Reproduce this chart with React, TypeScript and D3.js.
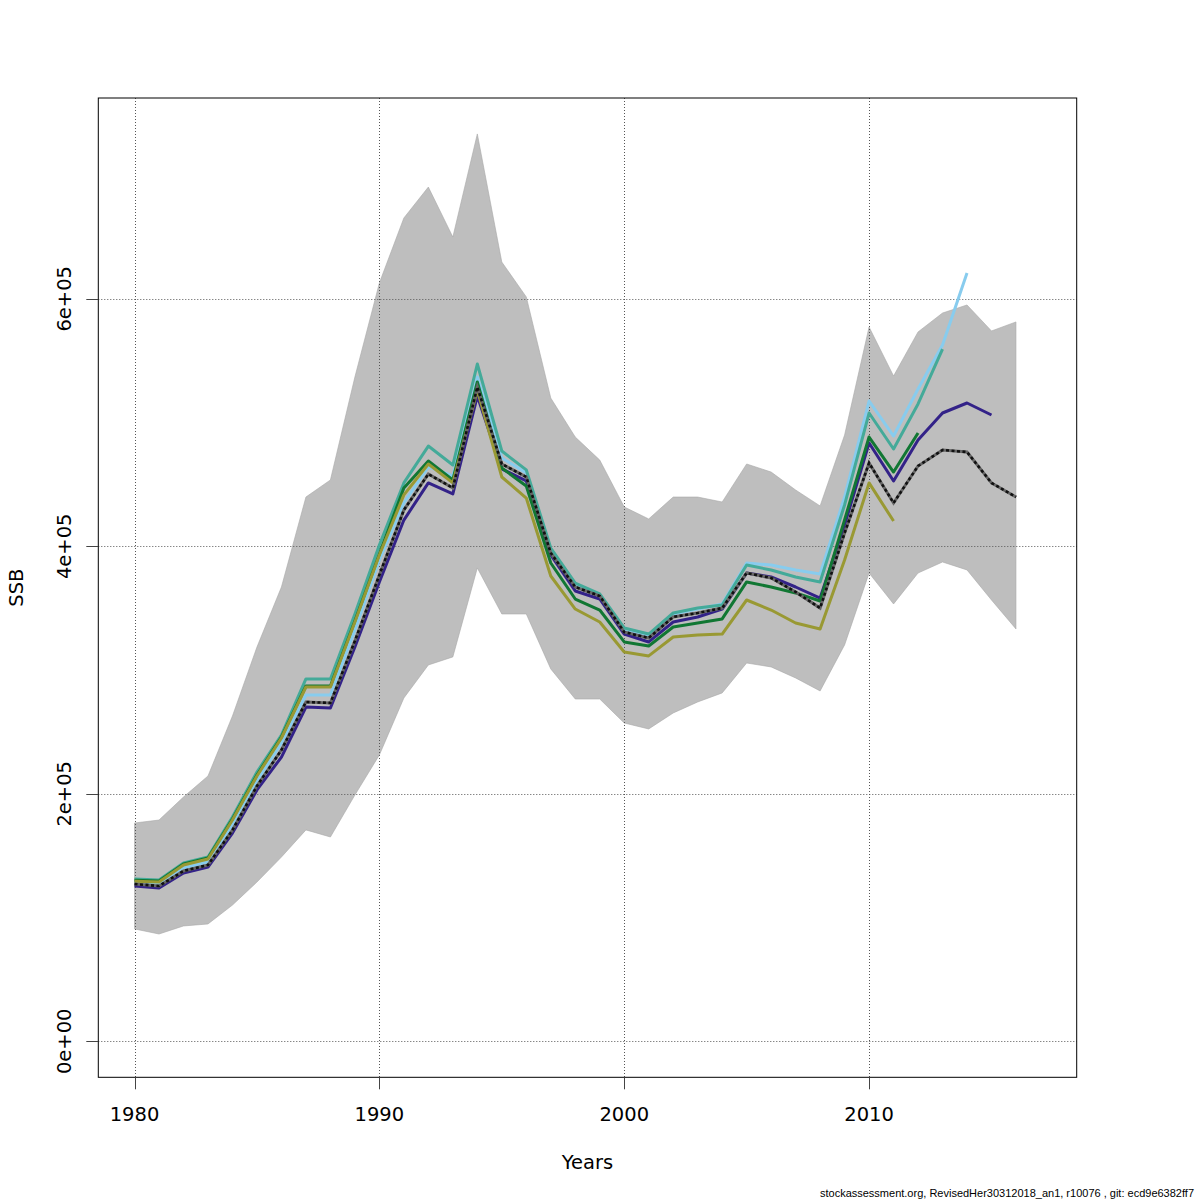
import React, { useEffect, useRef } from 'react'
import * as d3 from 'd3'

// SSB in thousands of tonnes, one value per year starting 1980
const years = [
  1980, 1981, 1982, 1983, 1984, 1985, 1986, 1987, 1988, 1989,
  1990, 1991, 1992, 1993, 1994, 1995, 1996, 1997, 1998, 1999,
  2000, 2001, 2002, 2003, 2004, 2005, 2006, 2007, 2008, 2009,
  2010, 2011, 2012, 2013, 2014, 2015, 2016,
]

const upperCI = [
  176.4, 178.8, 197.4, 214.4, 262.9, 318.6, 367.1, 439.8, 453.6, 536.8,
  612.8, 665.3, 690.3, 649.9, 733.2, 629.7, 601.5, 519.8, 488.3, 469.7,
  431.8, 422.1, 439.8, 439.8, 435.8, 466.5, 460.0, 445.5, 432.6, 489.9,
  577.2, 537.6, 573.2, 588.5, 595.0, 574.0, 581.3,
]

const lowerCI = [
  90.8, 86.7, 93.2, 94.8, 110.1, 128.7, 148.9, 170.8, 165.1, 199.0,
  231.4, 277.4, 304.1, 310.6, 382.5, 345.3, 345.3, 300.9, 276.6, 276.6,
  257.2, 252.4, 265.3, 274.2, 281.5, 305.7, 302.5, 293.6, 283.1, 320.3,
  378.4, 353.4, 378.4, 387.3, 380.9, 356.6, 333.2,
]

const ssbBase = [
  127.1, 125.5, 137.6, 142.5, 170.7, 206.3, 235.4, 274.2, 273.4, 323.5,
  376.8, 429.3, 458.4, 447.1, 528.7, 466.5, 456.0, 394.6, 367.1, 359.8,
  330.7, 325.9, 342.9, 346.1, 350.1, 378.4, 374.4, 363.1, 350.1, 410.7,
  467.3, 435.0, 464.9, 477.8, 476.2, 451.2, 439.8,
]

// retrospective peels
const peel1 = [
  125.5, 123.9, 136.0, 140.8, 168.3, 203.1, 229.7, 270.1, 269.3, 318.6,
  371.1, 421.2, 451.2, 442.3, 521.4, 462.5, 452.8, 393.0, 363.9, 357.4,
  329.1, 322.7, 338.8, 342.9, 349.3, 378.4, 375.2, 367.1, 358.2, 417.2,
  483.5, 452.8, 485.9, 507.7, 515.8, 506.1,
]

const peel2 = [
  128.2, 127.1, 140.0, 144.9, 174.8, 210.3, 241.0, 279.8, 279.8, 332.4,
  388.9, 435.0, 464.1, 456.8, 536.8, 471.4, 459.2, 397.0, 369.5, 360.6,
  332.4, 327.5, 345.3, 349.3, 353.4, 386.5, 384.9, 380.8, 377.6, 439.8,
  517.4, 489.1, 527.1, 562.7, 620.8,
]

const peel3 = [
  131.2, 130.3, 144.1, 148.9, 181.3, 217.6, 247.5, 292.8, 292.8, 345.3,
  401.0, 451.2, 481.0, 465.7, 547.3, 477.0, 461.7, 398.6, 370.3, 361.5,
  334.0, 329.1, 346.1, 350.1, 352.6, 384.9, 380.8, 375.2, 371.2, 433.4,
  507.7, 478.6, 515.0, 559.4,
]

const peel4 = [
  130.1, 129.5, 143.3, 148.1, 179.6, 215.2, 245.9, 287.1, 287.1, 339.6,
  393.8, 447.1, 468.9, 453.6, 532.8, 463.3, 448.7, 386.5, 357.4, 348.5,
  322.7, 319.4, 334.8, 338.0, 341.3, 371.2, 367.1, 362.3, 355.8, 421.3,
  488.3, 460.0, 491.6,
]

const peel5 = [
  129.3, 128.7, 142.5, 147.3, 178.8, 214.4, 245.1, 286.3, 286.3, 338.8,
  393.0, 441.5, 466.5, 451.2, 526.3, 456.0, 439.0, 376.0, 349.3, 338.8,
  314.6, 311.4, 326.7, 328.3, 329.1, 356.6, 348.5, 338.0, 333.2, 388.9,
  451.2, 420.4,
]

const peels = [peel1, peel2, peel3, peel4, peel5]
const peelColors = ['#332288', '#88CCEE', '#44AA99', '#117733', '#999933']

const xTicks = [1980, 1990, 2000, 2010]
const yTicks = [0, 200000, 400000, 600000]
const yTickLabels = ['0e+00', '2e+05', '4e+05', '6e+05']

const footer = 'stockassessment.org, RevisedHer30312018_an1, r10076 , git: ecd9e6382ff7'

export default function App() {
  const svgRef = useRef<SVGSVGElement>(null)

  useEffect(() => {
    if (!svgRef.current) return
    const svg = d3.select(svgRef.current)
    svg.selectAll('*').remove()

    const left = 98.3
    const right = 1076.7
    const top = 98
    const bottom = 1077.3

    const x = d3.scaleLinear().domain([1978.52, 2018.48]).range([left, right])
    const y = d3.scaleLinear().domain([-29090, 762250]).range([bottom, top])

    const font = 'DejaVu Sans, sans-serif'

    // confidence band
    const area = d3
      .area<number>()
      .x((d, i) => x(years[i]))
      .y0((d, i) => y(lowerCI[i] * 1000))
      .y1((d) => y(d * 1000))

    svg
      .append('path')
      .datum(upperCI)
      .attr('fill', '#bebebe')
      .attr('stroke', '#a8a8a8')
      .attr('stroke-width', 0.6)
      .attr('d', area)

    // grid
    const grid = svg.append('g')
      .attr('stroke', '#555')
      .attr('stroke-width', 1)
      .attr('stroke-dasharray', '1,2')
    grid.selectAll('.gx')
      .data(xTicks)
      .join('line')
      .attr('x1', (d) => Math.round(x(d)) + 0.5)
      .attr('x2', (d) => Math.round(x(d)) + 0.5)
      .attr('y1', top)
      .attr('y2', bottom)
    grid.selectAll('.gy')
      .data(yTicks)
      .join('line')
      .attr('class', 'gy')
      .attr('x1', left)
      .attr('x2', right)
      .attr('y1', (d) => Math.round(y(d)) + 0.5)
      .attr('y2', (d) => Math.round(y(d)) + 0.5)

    const line = d3
      .line<number>()
      .x((d, i) => x(years[i]))
      .y((d) => y(d * 1000))

    peels.forEach((p, k) => {
      svg
        .append('path')
        .datum(p)
        .attr('fill', 'none')
        .attr('stroke', peelColors[k])
        .attr('stroke-width', 3)
        .attr('stroke-linejoin', 'round')
        .attr('d', line)
    })

    // base run, dashed over a grey line
    svg
      .append('path')
      .datum(ssbBase)
      .attr('fill', 'none')
      .attr('stroke', '#666')
      .attr('stroke-width', 3)
      .attr('d', line)
    svg
      .append('path')
      .datum(ssbBase)
      .attr('fill', 'none')
      .attr('stroke', '#111')
      .attr('stroke-width', 2.6)
      .attr('stroke-dasharray', '3,2.5')
      .attr('d', line)

    // frame
    svg
      .append('rect')
      .attr('x', left)
      .attr('y', top)
      .attr('width', right - left)
      .attr('height', bottom - top)
      .attr('fill', 'none')
      .attr('stroke', '#000')
      .attr('stroke-width', 1)

    // x axis
    const xAxis = svg.append('g')
    xAxis.selectAll('line')
      .data(xTicks)
      .join('line')
      .attr('x1', (d) => Math.round(x(d)) + 0.5)
      .attr('x2', (d) => Math.round(x(d)) + 0.5)
      .attr('y1', bottom)
      .attr('y2', bottom + 12)
      .attr('stroke', '#444')
    xAxis.selectAll('text')
      .data(xTicks)
      .join('text')
      .attr('x', (d) => x(d))
      .attr('y', 1120.5)
      .attr('text-anchor', 'middle')
      .attr('font-family', font)
      .attr('font-size', '19.5px')
      .text((d) => d)

    // y axis
    const yAxis = svg.append('g')
    yAxis.selectAll('line')
      .data(yTicks)
      .join('line')
      .attr('x1', left - 12)
      .attr('x2', left)
      .attr('y1', (d) => Math.round(y(d)) + 0.5)
      .attr('y2', (d) => Math.round(y(d)) + 0.5)
      .attr('stroke', '#444')
    yAxis.selectAll('text')
      .data(yTicks)
      .join('text')
      .attr('transform', (d) => `translate(70.5,${y(d)}) rotate(-90)`)
      .attr('text-anchor', 'middle')
      .attr('font-family', font)
      .attr('font-size', '19.5px')
      .text((d, i) => yTickLabels[i])

    svg.append('text')
      .attr('x', (left + right) / 2)
      .attr('y', 1169)
      .attr('text-anchor', 'middle')
      .attr('font-family', font)
      .attr('font-size', '19.5px')
      .text('Years')

    svg.append('text')
      .attr('transform', `translate(23,${(top + bottom) / 2}) rotate(-90)`)
      .attr('text-anchor', 'middle')
      .attr('font-family', font)
      .attr('font-size', '19.5px')
      .text('SSB')

    svg.append('text')
      .attr('x', 1194)
      .attr('y', 1197)
      .attr('text-anchor', 'end')
      .attr('font-family', 'Liberation Sans, Arial, sans-serif')
      .attr('font-size', '11px')
      .text(footer)
  }, [])

  return (
    <div style={{ position: 'absolute', left: 0, top: 0, width: 1200, height: 1200, background: '#fff' }}>
      <svg ref={svgRef} width={1200} height={1200} />
    </div>
  )
}
